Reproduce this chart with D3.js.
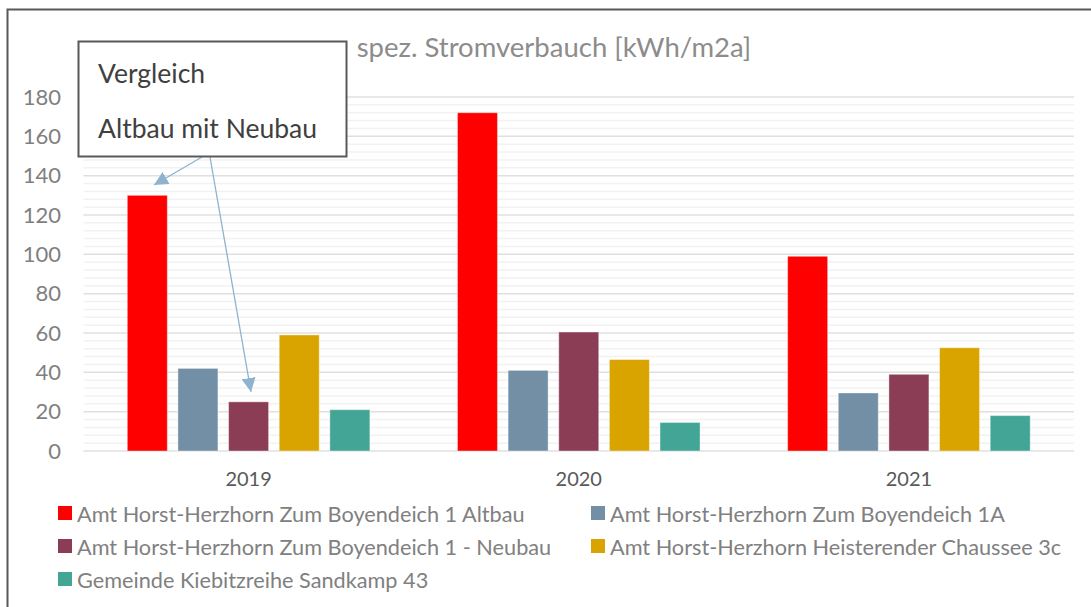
<!DOCTYPE html>
<html>
<head>
<meta charset="utf-8">
<script src="https://cdn.jsdelivr.net/npm/d3@7"></script>
<style>
body { margin: 0; background: #fff; }
svg { font-family: Lato, 'Open Sans', sans-serif; }
</style>
</head>
<body>
<div class="chart"></div>
<script>
const years = ['2019', '2020', '2021']
const seriesNames = [
	'Amt Horst-Herzhorn Zum Boyendeich 1 Altbau',
	'Amt Horst-Herzhorn Zum Boyendeich 1A',
	'Amt Horst-Herzhorn Zum Boyendeich 1 - Neubau',
	'Amt Horst-Herzhorn Heisterender Chaussee 3c',
	'Gemeinde Kiebitzreihe Sandkamp 43'
]
const altbau = [130, 172, 99]
const boyendeich1A = [42, 41, 29.5]
const neubau = [25, 60.5, 39]
const heisterende = [59, 46.5, 52.5]
const kiebitzreihe = [21, 14.5, 18]
const colours = ['#ff0000', '#728fa5', '#8b3d55', '#d9a300', '#43a596']
const yTicks = [0, 20, 40, 60, 80, 100, 120, 140, 160, 180]

const values = [altbau, boyendeich1A, neubau, heisterende, kiebitzreihe]

const width = 1091
const height = 607

const svg = d3.select('.chart').append('svg')
.attr('width', width)
.attr('height', height)

// outer frame (right and bottom edges are cut off in the original)
svg.append('path')
.attr('d', 'M7.5,' + height + 'V9.5H' + width)
.attr('fill', 'none')
.attr('stroke', '#595959')
.attr('stroke-width', 2)

const x = d3.scaleBand()
.domain(years)
.range([83.5, 1074])

const x1 = d3.scaleBand()
.domain(d3.range(seriesNames.length))
.range([0, x.bandwidth()])
.paddingInner(0.21)
.paddingOuter(0.865)

const y = d3.scaleLinear()
.domain([0, 180])
.range([451, 97])

// minor gridlines
svg.append('g')
.selectAll('line')
.data(d3.range(0, 181, 4).filter(v => v % 20 != 0))
.enter()
.append('line')
.attr('x1', 83.5)
.attr('x2', 1074)
.attr('y1', d => y(d))
.attr('y2', d => y(d))
.attr('stroke', '#f2f2f2')
.attr('stroke-width', 1.5)

// major gridlines
svg.append('g')
.selectAll('line')
.data(yTicks)
.enter()
.append('line')
.attr('x1', 83.5)
.attr('x2', 1074)
.attr('y1', d => y(d))
.attr('y2', d => y(d))
.attr('stroke', '#e0e0e0')
.attr('stroke-width', 1.5)

const yAxis = svg.append('g')
.attr('transform', 'translate(61,0)')
.call(d3.axisLeft(y).tickValues(yTicks).tickSize(0).tickPadding(0))

yAxis.select('.domain').remove()
yAxis.selectAll('text')
.attr('font-size', 22)
.attr('font-family', 'Lato, sans-serif')
.attr('fill', '#7f7f7f')

// bars
const groups = svg.append('g')
.selectAll('g')
.data(years)
.enter()
.append('g')
.attr('transform', d => 'translate(' + x(d) + ',0)')

groups.selectAll('rect')
.data((d, i) => values.map((s, j) => ({ series: j, value: s[i] })))
.enter()
.append('rect')
.attr('x', d => x1(d.series))
.attr('width', x1.bandwidth())
.attr('y', d => y(d.value))
.attr('height', d => y(0) - y(d.value))
.attr('fill', d => colours[d.series])
.attr('stroke', '#ffffff')
.attr('stroke-opacity', 0.4)

const xAxis = svg.append('g')
.attr('transform', 'translate(0,' + y(0) + ')')
.call(d3.axisBottom(x).tickSize(0).tickPadding(21))

xAxis.select('.domain').remove()
xAxis.selectAll('text')
.attr('font-size', 20)
.attr('font-family', 'Lato, sans-serif')
.attr('fill', '#595959')

// title
svg.append('text')
.attr('x', 554)
.attr('y', 57)
.attr('text-anchor', 'middle')
.attr('font-size', 27.5)
.attr('fill', '#8c8c8c')
.text('spez. Stromverbauch [kWh/m2a]')

// legend
const legendPos = [[58, 513], [591, 513], [58, 546], [591, 546], [58, 579]]

const legend = svg.append('g')
.selectAll('g')
.data(seriesNames)
.enter()
.append('g')
.attr('transform', (d, i) => 'translate(' + legendPos[i][0] + ',' + legendPos[i][1] + ')')

legend.append('rect')
.attr('x', 0)
.attr('y', -7)
.attr('width', 14)
.attr('height', 14)
.attr('fill', (d, i) => colours[i])

legend.append('text')
.attr('x', 19)
.attr('y', 1)
.attr('dy', '0.35em')
.attr('font-size', 21.7)
.attr('fill', '#808080')
.text(d => d)

// annotation arrows
const defs = svg.append('defs')
defs.append('marker')
.attr('id', 'arrow')
.attr('viewBox', '0 0 10 10')
.attr('refX', 10)
.attr('refY', 5)
.attr('markerWidth', 14)
.attr('markerHeight', 14)
.attr('markerUnits', 'userSpaceOnUse')
.attr('orient', 'auto')
.append('path')
.attr('d', 'M0,0L10,5L0,10z')
.attr('fill', '#8db3cf')

svg.append('line')
.attr('x1', 202).attr('y1', 157)
.attr('x2', 154).attr('y2', 185)
.attr('stroke', '#8db3cf')
.attr('stroke-width', 1.3)
.attr('marker-end', 'url(#arrow)')

svg.append('line')
.attr('x1', 210).attr('y1', 157)
.attr('x2', 251).attr('y2', 392)
.attr('stroke', '#8db3cf')
.attr('stroke-width', 1.3)
.attr('marker-end', 'url(#arrow)')

// annotation box
svg.append('rect')
.attr('x', 78.5)
.attr('y', 41.5)
.attr('width', 268)
.attr('height', 115)
.attr('fill', '#ffffff')
.attr('stroke', '#595959')
.attr('stroke-width', 2)

svg.append('text')
.attr('x', 98)
.attr('y', 83)
.attr('font-size', 26.5)
.attr('fill', '#404040')
.text('Vergleich')

svg.append('text')
.attr('x', 98)
.attr('y', 138)
.attr('font-size', 26.5)
.attr('fill', '#404040')
.text('Altbau mit Neubau')
</script>
</body>
</html>
